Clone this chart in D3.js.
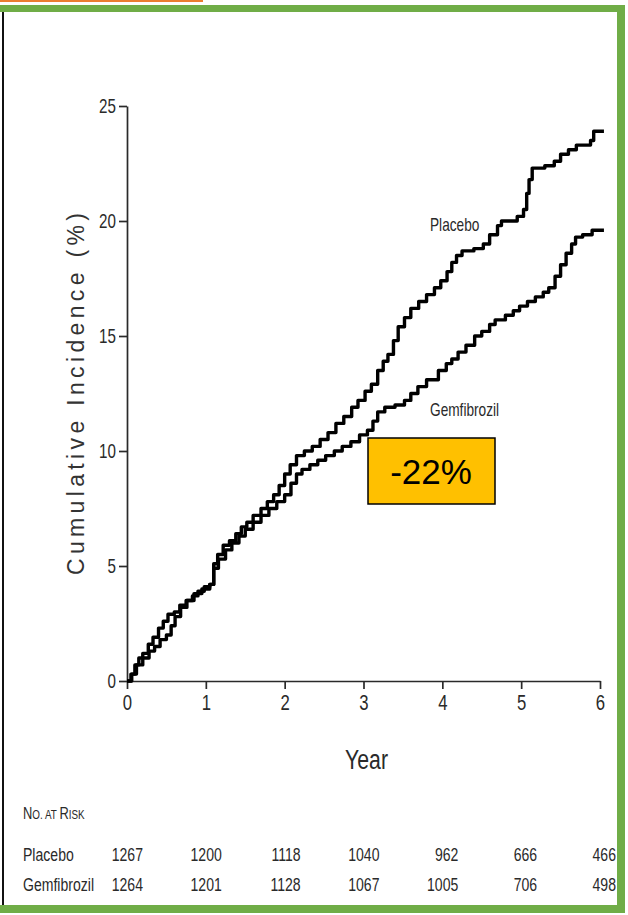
<!DOCTYPE html>
<html>
<head>
<meta charset="utf-8">
<script src="https://cdn.jsdelivr.net/npm/d3@7"></script>
<style>
  html, body { margin: 0; padding: 0; background: #fff; }
  svg { display: block; }
  text { font-family: "Liberation Sans", Arial, sans-serif; }
</style>
</head>
<body>
<svg id="chart" width="628" height="915"></svg>
<script>
// Kaplan–Meier style cumulative incidence, step points (year, %)
const placeboYears = [0,0.05,0.1,0.15,0.2,0.27,0.33,0.4,0.46,0.52,0.6,0.67,0.75,0.83,0.9,0.98,1.05,1.1,1.15,1.22,1.3,1.38,1.45,1.52,1.6,1.7,1.78,1.86,1.93,2.0,2.07,2.15,2.25,2.35,2.45,2.55,2.65,2.75,2.85,2.93,3.02,3.1,3.18,3.25,3.31,3.38,3.44,3.52,3.6,3.7,3.8,3.9,3.98,4.06,4.12,4.18,4.25,4.4,4.52,4.6,4.7,4.75,4.95,5.03,5.07,5.1,5.14,5.3,5.42,5.5,5.6,5.7,5.88,5.92,6.05];
const placeboValues = [0,0.3,0.7,1.0,1.2,1.6,1.9,2.3,2.6,2.9,3.0,3.3,3.5,3.7,3.9,4.1,4.2,5.1,5.5,5.9,6.1,6.4,6.7,6.9,7.2,7.5,7.8,8.1,8.5,9.0,9.4,9.8,10.0,10.2,10.5,10.8,11.2,11.5,11.9,12.2,12.6,12.9,13.5,13.9,14.2,14.8,15.4,15.8,16.2,16.5,16.8,17.1,17.4,17.8,18.2,18.5,18.7,18.8,19.0,19.4,19.8,20.0,20.2,20.5,21.2,21.8,22.3,22.4,22.6,22.9,23.1,23.3,23.5,23.9,23.9];

const gemfibrozilYears = [0,0.06,0.12,0.2,0.28,0.35,0.42,0.5,0.56,0.61,0.68,0.76,0.85,0.95,1.05,1.1,1.16,1.25,1.33,1.42,1.5,1.6,1.7,1.8,1.9,2.0,2.08,2.15,2.22,2.32,2.42,2.52,2.63,2.73,2.84,2.95,3.05,3.12,3.18,3.27,3.4,3.52,3.6,3.69,3.8,3.95,4.05,4.12,4.2,4.3,4.41,4.5,4.6,4.67,4.8,4.9,4.98,5.08,5.18,5.28,5.35,5.43,5.5,5.57,5.64,5.69,5.78,5.9,6.05];
const gemfibrozilValues = [0,0.3,0.7,1.0,1.3,1.5,1.8,2.0,2.4,2.8,3.2,3.5,3.8,4.0,4.2,4.9,5.3,5.7,6.0,6.3,6.6,6.9,7.2,7.5,7.8,8.1,8.6,9.0,9.2,9.4,9.6,9.8,10.0,10.2,10.4,10.7,10.9,11.3,11.7,11.9,12.0,12.2,12.5,12.8,13.1,13.5,13.8,14.0,14.3,14.6,15.0,15.2,15.5,15.7,15.9,16.1,16.3,16.5,16.7,16.9,17.1,17.6,18.1,18.6,19.0,19.3,19.4,19.6,19.6];

const yearTicks = [0, 1, 2, 3, 4, 5, 6];
const incidenceTicks = [0, 5, 10, 15, 20, 25];

const riskGroups = ["Placebo", "Gemfibrozil"];
const placeboAtRisk = [1267, 1200, 1118, 1040, 962, 666, 466];
const gemfibrozilAtRisk = [1264, 1201, 1128, 1067, 1005, 706, 498];

const reductionLabel = "-22%";

const svg = d3.select("#chart");
const ink = "#2a2a2a";
const SQUEEZE = 0.76; // horizontal squeeze giving a condensed face

// Turn a positioned text into a horizontally condensed one about its anchor point
function condense(sel, sx = SQUEEZE) {
  sel.each(function () {
    const t = d3.select(this);
    const tx = +t.attr("x") || 0, ty = +t.attr("y") || 0;
    t.attr("x", 0).attr("y", 0)
      .attr("transform", `translate(${tx},${ty}) scale(${sx},1)`);
  });
}

// Slide frame: orange accent, green border, black left rule
svg.append("rect").attr("x", 0).attr("y", 0).attr("width", 203).attr("height", 2).attr("fill", "#ED7D31");
svg.append("rect").attr("x", 0).attr("y", 5).attr("width", 625).attr("height", 7).attr("fill", "#70AD47");
svg.append("rect").attr("x", 617).attr("y", 5).attr("width", 8).attr("height", 908).attr("fill", "#70AD47");
svg.append("rect").attr("x", 0).attr("y", 905).attr("width", 625).attr("height", 8).attr("fill", "#70AD47");
svg.append("rect").attr("x", 2).attr("y", 12).attr("width", 2).attr("height", 893).attr("fill", "#111");

// Scales
const x = d3.scaleLinear().domain([0, 6]).range([127, 600]);
const y = d3.scaleLinear().domain([0, 25]).range([681, 106]);

// Axes
const yAxis = svg.append("g")
  .attr("transform", `translate(${x(0)},0)`)
  .call(d3.axisLeft(y).tickValues(incidenceTicks).tickFormat(d3.format("d"))
    .tickSize(8).tickPadding(3).tickSizeOuter(0));
yAxis.select(".domain").attr("stroke", ink).attr("stroke-width", 1.7);
yAxis.selectAll(".tick line").attr("stroke", ink).attr("stroke-width", 1.7);
yAxis.selectAll(".tick text").attr("font-size", 20).attr("fill", ink)
  .attr("font-family", "Liberation Sans, Arial, sans-serif").call(condense);

const xAxis = svg.append("g")
  .attr("transform", `translate(0,${y(0)})`)
  .call(d3.axisBottom(x).tickValues(yearTicks).tickFormat(d3.format("d"))
    .tickSize(8).tickPadding(5).tickSizeOuter(0));
xAxis.select(".domain").attr("stroke", ink).attr("stroke-width", 1.7);
xAxis.selectAll(".tick line").attr("stroke", ink).attr("stroke-width", 1.7);
xAxis.selectAll(".tick text").attr("font-size", 22).attr("fill", ink)
  .attr("font-family", "Liberation Sans, Arial, sans-serif").call(condense);

// Axis titles
svg.append("text")
  .attr("x", x(3) + 3).attr("y", 769)
  .attr("text-anchor", "middle")
  .attr("font-size", 28).attr("fill", ink)
  .text("Year").call(condense);

svg.append("text")
  .attr("transform", `translate(84,394) rotate(-90)`)
  .attr("text-anchor", "middle")
  .attr("font-size", 23).attr("fill", "#333")
  .attr("textLength", 362).attr("lengthAdjust", "spacing")
  .text("Cumulative Incidence (%)");

// Step curves
const line = d3.line().x(d => x(d[0])).y(d => y(d[1])).curve(d3.curveStepAfter);
const series = [
  { name: "Placebo", pts: d3.zip(placeboYears, placeboValues) },
  { name: "Gemfibrozil", pts: d3.zip(gemfibrozilYears, gemfibrozilValues) }
];
svg.append("g").selectAll("path").data(series).join("path")
  .attr("d", d => line(d.pts))
  .attr("fill", "none")
  .attr("stroke", "#000")
  .attr("stroke-width", 3.4)
  .attr("stroke-linejoin", "round");

// Curve labels
svg.append("text").attr("x", 430).attr("y", 231).attr("font-size", 18).attr("fill", ink)
  .text("Placebo").call(condense);
svg.append("text").attr("x", 430).attr("y", 416).attr("font-size", 18).attr("fill", ink)
  .text("Gemfibrozil").call(condense);

// Reduction callout
svg.append("rect")
  .attr("x", 368).attr("y", 438).attr("width", 127).attr("height", 66)
  .attr("fill", "#FFC000").attr("stroke", "#000").attr("stroke-width", 1.5);
svg.append("text")
  .attr("x", 431).attr("y", 484)
  .attr("text-anchor", "middle")
  .attr("font-size", 35).attr("fill", "#000")
  .text(reductionLabel);

// Number at risk table
const head = svg.append("text").attr("x", 23).attr("y", 819).attr("fill", ink);
head.append("tspan").attr("font-size", 17).text("N");
head.append("tspan").attr("font-size", 13).text("O. AT ");
head.append("tspan").attr("font-size", 17).text("R");
head.append("tspan").attr("font-size", 13).text("ISK");
head.call(condense);

const rowY = [861, 891];
const rows = [placeboAtRisk, gemfibrozilAtRisk];
riskGroups.forEach((g, i) => {
  svg.append("text")
    .attr("x", 23).attr("y", rowY[i]).attr("font-size", 18.5).attr("fill", ink)
    .text(g).call(condense);
  svg.append("g").selectAll("text").data(rows[i]).join("text")
    .attr("x", (d, j) => x(yearTicks[j]) + 16)
    .attr("y", rowY[i])
    .attr("text-anchor", "end")
    .attr("font-size", 18.5).attr("fill", ink)
    .text(d => d).call(condense);
});
</script>
</body>
</html>
